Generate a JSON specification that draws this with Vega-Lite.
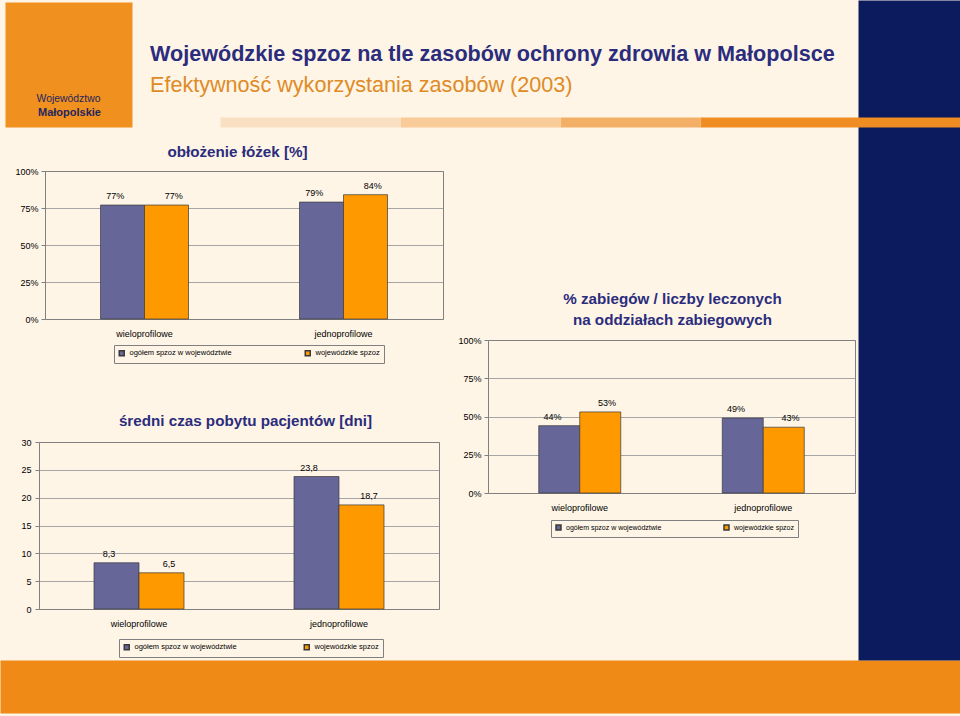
{
  "$schema": "https://vega.github.io/schema/vega-lite/v6.json",
  "width": 960,
  "height": 716,
  "autosize": {"type": "none"},
  "padding": 0,
  "background": "#FEF5E7",
  "config": {
    "view": {"stroke": null},
    "font": "Liberation Sans",
    "axis": {"labelFont": "Liberation Sans", "titleFont": "Liberation Sans", "labelColor": "#000000"},
    "legend": {"labelFont": "Liberation Sans", "labelColor": "#000000"},
    "text": {"font": "Liberation Sans"}
  },
  "title": {
    "text": "Wojewódzkie spzoz na tle zasobów ochrony zdrowia w Małopolsce",
    "subtitle": "Efektywność wykorzystania zasobów (2003)",
    "anchor": "start",
    "frame": "group",
    "dx": 150,
    "offset": -97,
    "font": "Liberation Sans",
    "fontSize": 21.6,
    "fontWeight": "bold",
    "color": "#2B2C7C",
    "subtitleFont": "Liberation Sans",
    "subtitleFontSize": 21.6,
    "subtitleFontWeight": "normal",
    "subtitleColor": "#DE8B26",
    "subtitlePadding": 9.6
  },
  "datasets": {
    "oblozenie": [
      {"kategoria": "wieloprofilowe", "seria": "ogółem spzoz w województwie", "wartosc": 77, "etykieta": "77%"},
      {"kategoria": "wieloprofilowe", "seria": "wojewódzkie spzoz", "wartosc": 77, "etykieta": "77%"},
      {"kategoria": "jednoprofilowe", "seria": "ogółem spzoz w województwie", "wartosc": 79, "etykieta": "79%"},
      {"kategoria": "jednoprofilowe", "seria": "wojewódzkie spzoz", "wartosc": 84, "etykieta": "84%"}
    ],
    "zabiegi": [
      {"kategoria": "wieloprofilowe", "seria": "ogółem spzoz w województwie", "wartosc": 44, "etykieta": "44%"},
      {"kategoria": "wieloprofilowe", "seria": "wojewódzkie spzoz", "wartosc": 53, "etykieta": "53%"},
      {"kategoria": "jednoprofilowe", "seria": "ogółem spzoz w województwie", "wartosc": 49, "etykieta": "49%"},
      {"kategoria": "jednoprofilowe", "seria": "wojewódzkie spzoz", "wartosc": 43, "etykieta": "43%"}
    ],
    "pobyt": [
      {"kategoria": "wieloprofilowe", "seria": "ogółem spzoz w województwie", "wartosc": 8.3, "etykieta": "8,3"},
      {"kategoria": "wieloprofilowe", "seria": "wojewódzkie spzoz", "wartosc": 6.5, "etykieta": "6,5"},
      {"kategoria": "jednoprofilowe", "seria": "ogółem spzoz w województwie", "wartosc": 23.8, "etykieta": "23,8"},
      {"kategoria": "jednoprofilowe", "seria": "wojewódzkie spzoz", "wartosc": 18.7, "etykieta": "18,7"}
    ],
    "pusty": []
  },
  "layer": [
    {
      "data": {"name": "pusty"},
      "mark": "point",
      "encoding": {
        "x": {"field": "p", "type": "quantitative", "scale": {"domain": [0, 1], "range": [0, 960]},
              "axis": {"orient": "bottom", "offset": -29.5, "domainWidth": 53, "domainColor": "#EF8A17", "labels": false, "ticks": false, "grid": false, "title": null, "zindex": 0}},
        "y": {"field": "q", "type": "quantitative", "scale": {"domain": [0, 1], "range": [0, 660]},
              "axis": {"orient": "right", "offset": -51, "domainWidth": 102, "domainColor": "#0B1B5D", "labels": false, "ticks": false, "grid": false, "title": null, "zindex": 0}}
      }
    },
    {
      "data": {"name": "pusty"},
      "mark": "point",
      "encoding": {
        "x": {"field": "p", "type": "quantitative", "scale": {"domain": [0, 1], "range": [700, 960]},
              "axis": {"orient": "top", "offset": -122, "domainWidth": 10, "domainColor": "#EF8C22", "labels": false, "ticks": false, "grid": false, "title": null, "zindex": 1}},
        "y": {"field": "q", "type": "quantitative", "scale": {"domain": [0, 1], "range": [2, 127]},
              "axis": {"orient": "left", "offset": -68.5, "domainWidth": 127, "domainColor": "#F0901E", "labels": false, "ticks": false, "grid": false, "title": null, "zindex": 0}}
      }
    },
    {
      "data": {"name": "pusty"},
      "mark": "point",
      "encoding": {
        "x": {"field": "p", "type": "quantitative", "scale": {"domain": [0, 1], "range": [560, 700]},
              "axis": {"orient": "top", "offset": -122, "domainWidth": 10, "domainColor": "#F4AF66", "labels": false, "ticks": false, "grid": false, "title": null, "zindex": 1}},
        "y": {"field": "q", "type": "quantitative", "scale": {"domain": [0, 1], "range": [0, 716]},
              "axis": {"orient": "left", "offset": 0, "domain": false, "labels": false, "ticks": false, "grid": false, "zindex": 1,
                       "title": "Województwo", "titleAngle": 0, "titleX": 68, "titleY": 101, "titleAlign": "center", "titleBaseline": "alphabetic",
                       "titleFontSize": 10.4, "titleFontWeight": "normal", "titleColor": "#1F2560"}}
      }
    },
    {
      "data": {"name": "pusty"},
      "mark": "point",
      "encoding": {
        "x": {"field": "p", "type": "quantitative", "scale": {"domain": [0, 1], "range": [400, 560]},
              "axis": {"orient": "top", "offset": -122, "domainWidth": 10, "domainColor": "#F8CB98", "labels": false, "ticks": false, "grid": false, "title": null, "zindex": 1}},
        "y": {"field": "q", "type": "quantitative", "scale": {"domain": [0, 1], "range": [0, 716]},
              "axis": {"orient": "left", "offset": 0, "domain": false, "labels": false, "ticks": false, "grid": false, "zindex": 1,
                       "title": "Małopolskie", "titleAngle": 0, "titleX": 69, "titleY": 115, "titleAlign": "center", "titleBaseline": "alphabetic",
                       "titleFontSize": 11, "titleFontWeight": "bold", "titleColor": "#1F2560"}}
      }
    },
    {
      "data": {"name": "pusty"},
      "mark": "point",
      "encoding": {
        "x": {"field": "p", "type": "quantitative", "scale": {"domain": [0, 1], "range": [220, 400]},
              "axis": {"orient": "top", "offset": -122, "domainWidth": 10, "domainColor": "#FAE0C2", "labels": false, "ticks": false, "grid": false, "title": null, "zindex": 1}}
      }
    },
    {
      "data": {"name": "oblozenie"},
      "mark": {"type": "bar", "stroke": "#3A3A3A", "strokeWidth": 0.7},
      "encoding": {
        "x": {"field": "kategoria", "type": "nominal", "sort": null,
              "scale": {"domain": ["wieloprofilowe", "jednoprofilowe"], "range": [45, 443], "paddingInner": 0.1156, "paddingOuter": 0.0578},
              "axis": {"orient": "bottom", "offset": -397, "title": null, "labelAngle": 0, "labelFontSize": 9, "labelPadding": 10, "ticks": false, "domainColor": "#808080", "grid": false}},
        "xOffset": {"field": "seria", "type": "nominal", "sort": null,
                    "scale": {"domain": ["ogółem spzoz w województwie", "wojewódzkie spzoz"], "paddingInner": 0, "paddingOuter": 1}},
        "y": {"field": "wartosc", "type": "quantitative",
              "scale": {"domain": [0, 100], "range": [319, 171], "nice": false},
              "axis": {"orient": "left", "offset": -45, "title": null, "values": [0, 25, 50, 75, 100], "labelExpr": "datum.value + '%'", "labelFontSize": 9, "labelPadding": 3, "tickSize": 4, "tickColor": "#808080", "domainColor": "#808080", "grid": true, "gridColor": "#A6A6A6"}},
        "color": {"field": "seria", "type": "nominal", "sort": null,
                  "scale": {"domain": ["ogółem spzoz w województwie", "wojewódzkie spzoz"], "range": ["#666699", "#FF9900"]},
                  "legend": {"orient": "none", "legendX": 114, "legendY": 345, "direction": "horizontal", "title": null, "symbolType": "square", "symbolSize": 25, "labelFontSize": 7.5, "columnPadding": 70, "padding": 4, "strokeColor": "#808080"}}
      }
    },
    {
      "data": {"name": "oblozenie"},
      "mark": {"type": "text", "baseline": "bottom", "dy": -4, "fontSize": 9, "color": "#000000"},
      "encoding": {
        "x": {"field": "kategoria", "type": "nominal", "sort": null,
              "scale": {"domain": ["wieloprofilowe", "jednoprofilowe"], "range": [45, 443], "paddingInner": 0.1156, "paddingOuter": 0.0578},
              "axis": {"orient": "top", "offset": -171, "labels": false, "ticks": false, "grid": false, "domainColor": "#808080",
                       "title": "obłożenie łóżek [%]", "titleFontSize": 15.2, "titleFontWeight": "bold", "titleColor": "#2B2C7C", "titlePadding": 12, "titleX": 237}},
        "xOffset": {"field": "seria", "type": "nominal", "sort": null,
                    "scale": {"domain": ["ogółem spzoz w województwie", "wojewódzkie spzoz"], "paddingInner": 0, "paddingOuter": 1}},
        "y": {"field": "wartosc", "type": "quantitative",
              "scale": {"domain": [0, 100], "range": [319, 171], "nice": false},
              "axis": {"orient": "right", "offset": -517, "labels": false, "ticks": false, "grid": false, "domainColor": "#808080", "title": null}},
        "text": {"field": "etykieta"}
      }
    },
    {
      "data": {"name": "zabiegi"},
      "mark": {"type": "bar", "stroke": "#3A3A3A", "strokeWidth": 0.7},
      "encoding": {
        "x": {"field": "kategoria", "type": "nominal", "sort": null,
              "scale": {"domain": ["wieloprofilowe", "jednoprofilowe"], "range": [488, 855], "paddingInner": 0.1063, "paddingOuter": 0.0531},
              "axis": {"orient": "bottom", "offset": -223, "title": null, "labelAngle": 0, "labelFontSize": 9, "labelPadding": 10, "ticks": false, "domainColor": "#808080", "grid": false}},
        "xOffset": {"field": "seria", "type": "nominal", "sort": null,
                    "scale": {"domain": ["ogółem spzoz w województwie", "wojewódzkie spzoz"], "paddingInner": 0, "paddingOuter": 1}},
        "y": {"field": "wartosc", "type": "quantitative",
              "scale": {"domain": [0, 100], "range": [493, 340], "nice": false},
              "axis": {"orient": "left", "offset": -488, "title": null, "values": [0, 25, 50, 75, 100], "labelExpr": "datum.value + '%'", "labelFontSize": 9, "labelPadding": 3, "tickSize": 4, "tickColor": "#808080", "domainColor": "#808080", "grid": true, "gridColor": "#A6A6A6"}},
        "color": {"field": "seria", "type": "nominal", "sort": null,
                  "scale": {"domain": ["ogółem spzoz w województwie", "wojewódzkie spzoz"], "range": ["#666699", "#FF9900"]},
                  "legend": {"orient": "none", "legendX": 551, "legendY": 520, "direction": "horizontal", "title": null, "symbolType": "square", "symbolSize": 25, "labelFontSize": 7, "columnPadding": 59, "padding": 4, "strokeColor": "#808080"}}
      }
    },
    {
      "data": {"name": "zabiegi"},
      "mark": {"type": "text", "baseline": "bottom", "dy": -4, "fontSize": 9, "color": "#000000"},
      "encoding": {
        "x": {"field": "kategoria", "type": "nominal", "sort": null,
              "scale": {"domain": ["wieloprofilowe", "jednoprofilowe"], "range": [488, 855], "paddingInner": 0.1063, "paddingOuter": 0.0531},
              "axis": {"orient": "top", "offset": -340, "labels": false, "ticks": false, "grid": false, "domainColor": "#808080",
                       "title": ["% zabiegów / liczby leczonych", "na oddziałach zabiegowych"], "titleLineHeight": 21, "titleFontSize": 15.2, "titleFontWeight": "bold", "titleColor": "#2B2C7C", "titlePadding": 13, "titleX": 672}},
        "xOffset": {"field": "seria", "type": "nominal", "sort": null,
                    "scale": {"domain": ["ogółem spzoz w województwie", "wojewódzkie spzoz"], "paddingInner": 0, "paddingOuter": 1}},
        "y": {"field": "wartosc", "type": "quantitative",
              "scale": {"domain": [0, 100], "range": [493, 340], "nice": false},
              "axis": {"orient": "right", "offset": -105, "labels": false, "ticks": false, "grid": false, "domainColor": "#808080", "title": null}},
        "text": {"field": "etykieta"}
      }
    },
    {
      "data": {"name": "pobyt"},
      "mark": {"type": "bar", "stroke": "#3A3A3A", "strokeWidth": 0.7},
      "encoding": {
        "x": {"field": "kategoria", "type": "nominal", "sort": null,
              "scale": {"domain": ["wieloprofilowe", "jednoprofilowe"], "range": [39, 439], "paddingInner": 0.1, "paddingOuter": 0.05},
              "axis": {"orient": "bottom", "offset": -107, "title": null, "labelAngle": 0, "labelFontSize": 9, "labelPadding": 10, "ticks": false, "domainColor": "#808080", "grid": false}},
        "xOffset": {"field": "seria", "type": "nominal", "sort": null,
                    "scale": {"domain": ["ogółem spzoz w województwie", "wojewódzkie spzoz"], "paddingInner": 0, "paddingOuter": 1}},
        "y": {"field": "wartosc", "type": "quantitative",
              "scale": {"domain": [0, 30], "range": [609, 442], "nice": false},
              "axis": {"orient": "left", "offset": -39, "title": null, "values": [0, 5, 10, 15, 20, 25, 30], "labelFontSize": 9, "labelPadding": 4, "tickSize": 4, "tickColor": "#808080", "domainColor": "#808080", "grid": true, "gridColor": "#A6A6A6"}},
        "color": {"field": "seria", "type": "nominal", "sort": null,
                  "scale": {"domain": ["ogółem spzoz w województwie", "wojewódzkie spzoz"], "range": ["#666699", "#FF9900"]},
                  "legend": {"orient": "none", "legendX": 119, "legendY": 639, "direction": "horizontal", "title": null, "symbolType": "square", "symbolSize": 25, "labelFontSize": 7.5, "columnPadding": 64, "padding": 4, "strokeColor": "#808080"}}
      }
    },
    {
      "data": {"name": "pobyt"},
      "mark": {"type": "text", "baseline": "bottom", "dy": -4, "fontSize": 9, "color": "#000000"},
      "encoding": {
        "x": {"field": "kategoria", "type": "nominal", "sort": null,
              "scale": {"domain": ["wieloprofilowe", "jednoprofilowe"], "range": [39, 439], "paddingInner": 0.1, "paddingOuter": 0.05},
              "axis": {"orient": "top", "offset": -442, "labels": false, "ticks": false, "grid": false, "domainColor": "#808080",
                       "title": "średni czas pobytu pacjentów [dni]", "titleFontSize": 15.2, "titleFontWeight": "bold", "titleColor": "#2B2C7C", "titlePadding": 14, "titleX": 245}},
        "xOffset": {"field": "seria", "type": "nominal", "sort": null,
                    "scale": {"domain": ["ogółem spzoz w województwie", "wojewódzkie spzoz"], "paddingInner": 0, "paddingOuter": 1}},
        "y": {"field": "wartosc", "type": "quantitative",
              "scale": {"domain": [0, 30], "range": [609, 442], "nice": false},
              "axis": {"orient": "right", "offset": -521, "labels": false, "ticks": false, "grid": false, "domainColor": "#808080", "title": null}},
        "text": {"field": "etykieta"}
      }
    }
  ],
  "resolve": {
    "scale": {"x": "independent", "y": "independent", "xOffset": "independent", "color": "independent"},
    "axis": {"x": "independent", "y": "independent"},
    "legend": {"color": "independent"}
  }
}
